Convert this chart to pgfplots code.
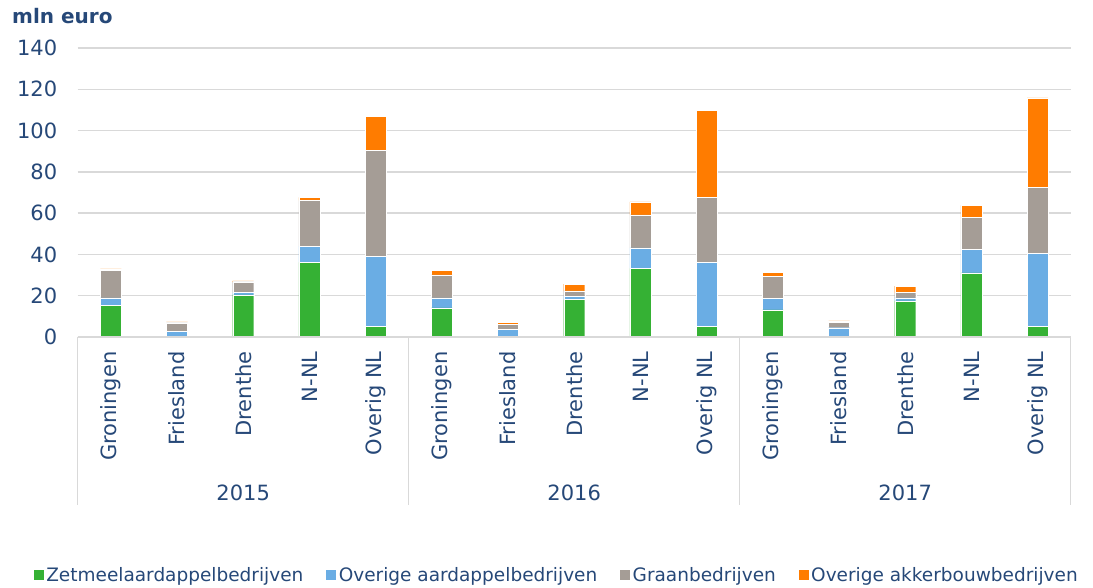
\documentclass[border=0pt]{standalone}
\usepackage{pgfplots}
\pgfplotsset{compat=1.18}
\usepackage{fontspec}
\setmainfont{DejaVu Sans}
\definecolor{cgreen}{RGB}{53,177,52}
\definecolor{cblue}{RGB}{106,173,228}
\definecolor{cgrey}{RGB}{165,157,150}
\definecolor{corange}{RGB}{255,124,0}
\definecolor{ctext}{RGB}{38,72,120}
\definecolor{cgrid}{RGB}{217,217,217}
\begin{document}
\begin{tikzpicture}
\useasboundingbox (-77.7pt,-250pt) rectangle (1015.3pt,337pt);
\begin{axis}[
  at={(0,0)}, anchor=south west,
  scale only axis, width=993pt, height=289pt,
  xmin=-0.5, xmax=14.5, ymin=0, ymax=140,
  ybar stacked, bar width=21pt,
  ytick={0,20,...,140},
  xtick={0,...,14},
  xticklabels={Groningen,Friesland,Drenthe,N-NL,Overig NL,Groningen,Friesland,Drenthe,N-NL,Overig NL,Groningen,Friesland,Drenthe,N-NL,Overig NL},
  major tick length=0pt,
  axis line style={draw=none},
  ymajorgrids, grid style={cgrid, line width=1.3pt},
  /pgf/number format/assume math mode=true,
  yticklabel style={font=\fontsize{21}{25}\selectfont, text=ctext, anchor=east, xshift=-17pt},
  xticklabel style={font=\fontsize{21}{25}\selectfont, text=ctext, rotate=90, anchor=east, xshift=-11pt},
  legend style={draw=none, fill=none, at={(-0.0443,-0.8235)}, anchor=west, inner sep=0pt,
    legend columns=4, font=\fontsize{18.5}{22}\selectfont, text=ctext,
    /tikz/every even column/.append style={column sep=20pt},
    nodes={inner sep=3pt}},
  legend cell align=left,
  every axis plot/.append style={draw=white, line width=0.4pt},
]
\addplot[fill=cgreen, legend image code/.code={\fill[cgreen] (0pt,-4.5pt) rectangle (9pt,4.5pt);}] coordinates {
 (0,15.2) (1,0.0) (2,20.4) (3,36.2) (4,5.3)
 (5,14.1) (6,0.0) (7,18.1) (8,33.2) (9,5.3)
 (10,13.1) (11,0.0) (12,17.5) (13,31.1) (14,5.3)};
\addlegendentry{Zetmeelaardappelbedrijven}
\addplot[fill=cblue, legend image code/.code={\fill[cblue] (0pt,-4.5pt) rectangle (9pt,4.5pt);}] coordinates {
 (0,3.7) (1,2.7) (2,1.1) (3,7.8) (4,33.9)
 (5,4.8) (6,3.6) (7,1.6) (8,10.0) (9,30.9)
 (10,5.5) (11,4.5) (12,1.4) (13,11.3) (14,35.2)};
\addlegendentry{Overige aardappelbedrijven}
\addplot[fill=cgrey, legend image code/.code={\fill[cgrey] (0pt,-4.5pt) rectangle (9pt,4.5pt);}] coordinates {
 (0,13.5) (1,4.1) (2,5.2) (3,22.2) (4,51.1)
 (5,11.2) (6,2.5) (7,2.6) (8,16.0) (9,31.4)
 (10,10.7) (11,2.5) (12,2.6) (13,15.7) (14,32.0)};
\addlegendentry{Graanbedrijven}
\addplot[fill=corange, legend image code/.code={\fill[corange] (0pt,-4.5pt) rectangle (9pt,4.5pt);}] coordinates {
 (0,0.6) (1,0.5) (2,0.5) (3,1.4) (4,16.7)
 (5,2.1) (6,0.9) (7,3.3) (8,6.3) (9,42.1)
 (10,2.1) (11,0.8) (12,3.1) (13,5.7) (14,43.4)};
\addlegendentry{Overige akkerbouwbedrijven}
\coordinate (s0) at (axis cs:-0.5,0);
\coordinate (s1) at (axis cs:4.5,0);
\coordinate (s2) at (axis cs:9.5,0);
\coordinate (s3) at (axis cs:14.5,0);
\coordinate (y1) at (axis cs:2,0);
\coordinate (y2) at (axis cs:7,0);
\coordinate (y3) at (axis cs:12,0);
\end{axis}
\foreach \s in {s0,s1,s2,s3} {\draw[cgrid, line width=1.3pt] (\s) -- ++(0pt,-168pt);}
\draw[cgrid, line width=1.3pt] (s0) -- (s3);
\node[text=ctext, font=\fontsize{21}{25}\selectfont] at ([yshift=-156pt]y1) {2015};
\node[text=ctext, font=\fontsize{21}{25}\selectfont] at ([yshift=-156pt]y2) {2016};
\node[text=ctext, font=\fontsize{21}{25}\selectfont] at ([yshift=-156pt]y3) {2017};
\node[text=ctext, font=\bfseries\fontsize{20}{24}\selectfont, anchor=west, inner sep=0pt] at (-65.7pt,321pt) {mln euro};
\end{tikzpicture}
\end{document}
